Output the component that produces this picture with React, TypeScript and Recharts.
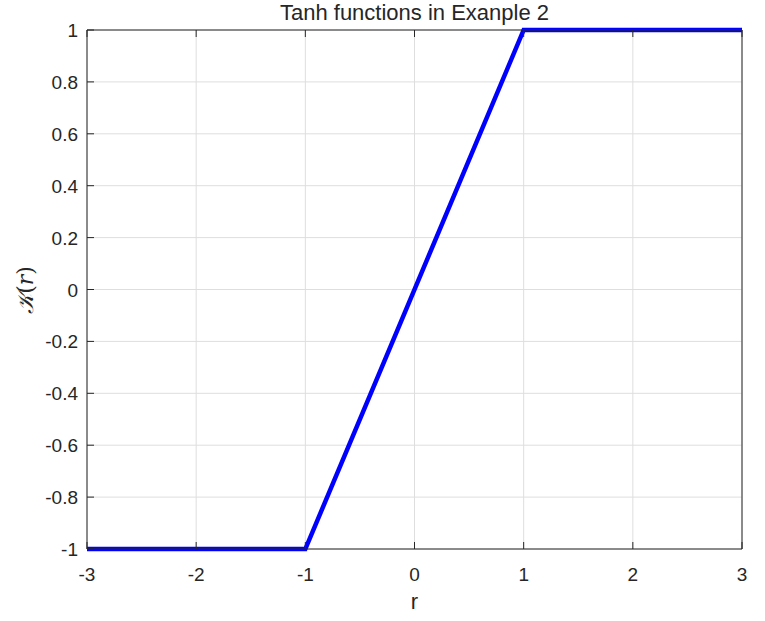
import React from 'react'
import { CartesianGrid, Line, LineChart, XAxis, YAxis } from 'recharts'

const rValues = [-3, -1, 1, 3]
const kValues = [-1, -1, 1, 1]
const xTicks = [-3, -2, -1, 0, 1, 2, 3]
const yTicks = [-1, -0.8, -0.6, -0.4, -0.2, 0, 0.2, 0.4, 0.6, 0.8, 1]

const data = rValues.map((r, i) => ({ r, k: kValues[i] }))

const ink = '#262626'
const font = '"Liberation Sans", Arial, sans-serif'
const fmt = (v: number) => String(Math.round(v * 10) / 10)
const TICK = 7

// ticks point inward, MATLAB style
function BottomTick(props: any) {
  const { x, y, payload } = props
  return (
    <g>
      <line x1={x} x2={x} y1={y} y2={y - TICK} stroke={ink} />
      <text x={x} y={y + 32} textAnchor="middle" fill={ink} fontSize={19} fontFamily={font}>{fmt(payload.value)}</text>
    </g>
  )
}

function TopTick(props: any) {
  const { x, y } = props
  return <line x1={x} x2={x} y1={y} y2={y + TICK} stroke={ink} />
}

function LeftTick(props: any) {
  const { x, y, payload } = props
  return (
    <g>
      <line x1={x} x2={x + TICK} y1={y} y2={y} stroke={ink} />
      <text x={x - 9} y={y + 7} textAnchor="end" fill={ink} fontSize={19} fontFamily={font}>{fmt(payload.value)}</text>
    </g>
  )
}

function RightTick(props: any) {
  const { x, y } = props
  return <line x1={x} x2={x - TICK} y1={y} y2={y} stroke={ink} />
}

function App() {
  return (
    <div style={{ position: 'absolute', left: 0, top: 0, width: 765, height: 621, background: '#fff', fontFamily: font }}>
      <LineChart width={765} height={621} data={data} margin={{ top: 29, right: 22, left: 0, bottom: 0 }}>
        <CartesianGrid stroke="#dedede" strokeWidth={1} />
        <XAxis dataKey="r" type="number" domain={[-3, 3]} ticks={xTicks}
          height={72} tickSize={0} tickMargin={0} tickLine={false} stroke={ink} tick={<BottomTick />} />
        <XAxis xAxisId="top" orientation="top" dataKey="r" type="number" domain={[-3, 3]} ticks={xTicks}
          height={1} tickSize={0} tickMargin={0} tickLine={false} stroke={ink} tick={<TopTick />} />
        <YAxis type="number" domain={[-1, 1]} ticks={yTicks}
          width={87} tickSize={0} tickMargin={0} tickLine={false} stroke={ink} tick={<LeftTick />} />
        <YAxis yAxisId="right" orientation="right" type="number" domain={[-1, 1]} ticks={yTicks}
          width={1} tickSize={0} tickMargin={0} tickLine={false} stroke={ink} tick={<RightTick />} />
        <Line type="linear" dataKey="k" stroke="#0000ff" strokeWidth={4.5} dot={false} isAnimationActive={false} />
      </LineChart>
      <div style={{ position: 'absolute', left: 87, width: 655, top: 0, textAlign: 'center', fontSize: 22, color: ink }}>
        Tanh functions in Exanple 2
      </div>
      <div style={{ position: 'absolute', left: 87, width: 655, top: 589, textAlign: 'center', fontSize: 22, color: ink }}>
        r
      </div>
      <div style={{
        position: 'absolute', left: 25, top: 290, transform: 'translate(-50%, -50%) rotate(-90deg)',
        fontSize: 22, color: ink, fontFamily: '"DejaVu Serif", serif', whiteSpace: 'nowrap'
      }}>
        <span style={{ fontStyle: 'italic' }}>𝒦</span>(<span style={{ fontStyle: 'italic' }}>r</span>)
      </div>
    </div>
  )
}

export default App
